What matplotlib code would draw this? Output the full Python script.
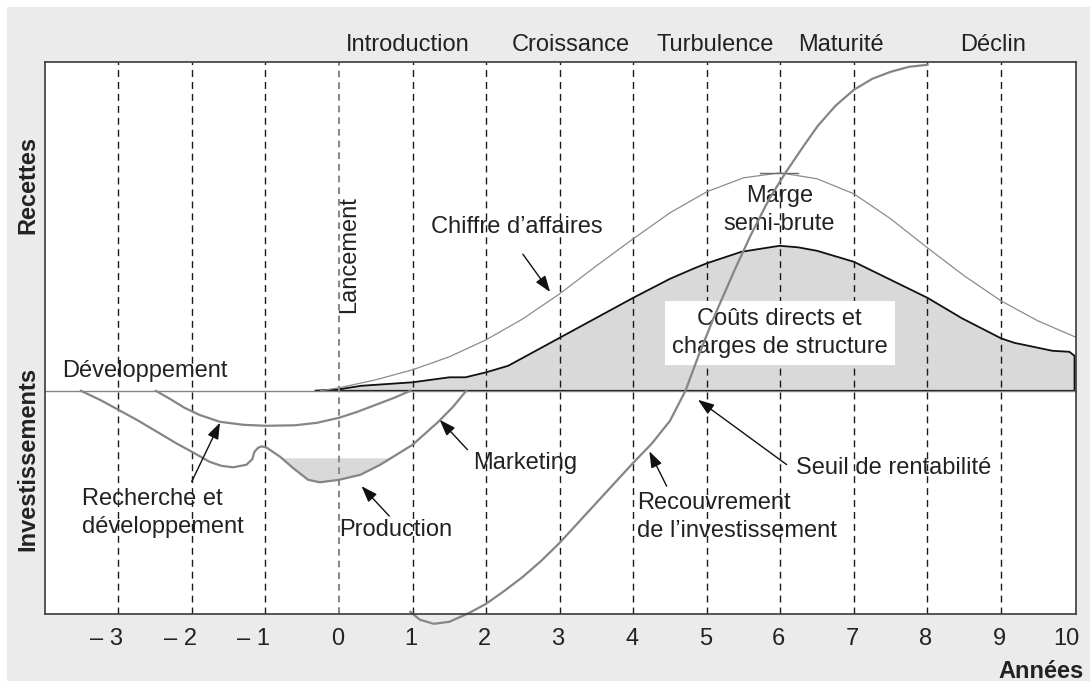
import matplotlib
matplotlib.use('Agg')
import matplotlib.pyplot as plt
from matplotlib.patches import Rectangle
import matplotlib.transforms as mtransforms

plt.rcParams['font.family'] = ['Liberation Sans', 'DejaVu Sans']

# ---------------- data ----------------
years = [-3, -2, -1, 0, 1, 2, 3, 4, 5, 6, 7, 8, 9, 10]
year_labels = ['– 3', '– 2', '– 1', '0', '1', '2', '3', '4', '5', '6', '7', '8', '9', '10']

phases = ['Introduction', 'Croissance', 'Turbulence', 'Maturité', 'Déclin']
phase_x = [0.93, 3.15, 5.12, 6.82, 8.89]

# Chiffre d'affaires (thin grey)
ca_x = [-0.25, 0, 0.5, 1, 1.5, 2, 2.5, 3, 3.5, 4, 4.5, 5, 5.5, 6, 6.5, 7, 7.5, 8, 8.5, 9, 9.5, 10.02]
ca_y = [0.0, 0.03, 0.11, 0.21, 0.34, 0.51, 0.72, 0.97, 1.25, 1.52, 1.78, 1.99, 2.13, 2.18, 2.12, 1.97, 1.72, 1.43, 1.15, 0.90, 0.70, 0.535]

# Coûts directs et charges de structure (black outline, grey fill)
cost_x = [-0.33, 0, 0.3, 1, 1.5, 1.72, 2, 2.3, 3, 3.5, 4, 4.5, 4.83, 5, 5.47, 5.99, 6.24, 6.5, 7, 7.5, 8, 8.47, 9, 9.18, 9.7, 9.93, 10.0, 10.0]
cost_y = [0.0, 0.015, 0.05, 0.085, 0.135, 0.135, 0.185, 0.25, 0.53, 0.73, 0.93, 1.12, 1.225, 1.275, 1.39, 1.45, 1.435, 1.40, 1.29, 1.11, 0.93, 0.725, 0.525, 0.48, 0.40, 0.39, 0.35, 0.0]

# Recherche et développement (upper U)
rd_x = [-2.49, -2.3, -2.1, -1.9, -1.62, -1.3, -1.0, -0.6, -0.3, 0, 0.25, 0.5, 0.75, 0.97]
rd_y = [0.0, -0.08, -0.17, -0.24, -0.31, -0.34, -0.35, -0.345, -0.32, -0.27, -0.21, -0.14, -0.07, 0.0]

# Marketing / production (lower curve)
mk_x = [-3.51, -3.25, -3.0, -2.75, -2.44, -2.2, -2.0, -1.76, -1.6, -1.44, -1.26, -1.18, -1.15, -1.10, -1.05,
        -0.98, -0.80, -0.62, -0.42, -0.26, 0, 0.29, 0.56, 1.0, 1.35, 1.55, 1.73]
mk_y = [0.0, -0.09, -0.19, -0.29, -0.425, -0.53, -0.61, -0.71, -0.75, -0.765, -0.74, -0.685, -0.61, -0.57, -0.555,
        -0.57, -0.66, -0.775, -0.89, -0.915, -0.89, -0.84, -0.74, -0.54, -0.31, -0.16, 0.0]
prod_level = -0.675
prod_start = -1.0

# Recouvrement de l'investissement
rec_x = [0.97, 1.1, 1.29, 1.5, 1.76, 2.0, 2.25, 2.5, 2.75, 3.0, 3.25, 3.5, 3.75, 4.0, 4.25, 4.5, 4.71, 4.9,
         5.1, 5.38, 5.6, 5.85, 6.07, 6.3, 6.51, 6.75, 7.0, 7.25, 7.5, 7.75, 8.0]
rec_y = [-2.21, -2.29, -2.33, -2.31, -2.225, -2.13, -2.0, -1.86, -1.70, -1.52, -1.32, -1.12, -0.92, -0.72, -0.53,
         -0.30, 0.0, 0.375, 0.74, 1.21, 1.56, 1.92, 2.18, 2.43, 2.65, 2.85, 3.01, 3.12, 3.19, 3.24, 3.26]

peak_x = [5.724, 6.245]
peak_y = [2.18, 2.18]

TXT = '#222222'
GREY = '#858585'
FS = 17

# ---------------- figure ----------------
fig = plt.figure(figsize=(10.9, 6.81), dpi=100)
fig.patch.set_facecolor('white')
fig.patches.append(Rectangle((7 / 1090, 0), 1 - 7 / 1090, 1 - 7 / 681, transform=fig.transFigure,
                             facecolor='#ebebeb', edgecolor='none', zorder=-10))

ax = fig.add_axes([44.5 / 1090, 1 - 614.4 / 681, (1075.7 - 44.5) / 1090, (614.4 - 61.7) / 681])
ax.set_xlim(-4.004, 10.016)
ax.set_ylim(-2.236, 3.291)
ax.set_facecolor('white')
for s in ax.spines.values():
    s.set_color('#3a3a3a')
    s.set_linewidth(1.2)
    s.set_zorder(6)
ax.set_yticks([])
ax.set_xticks(years, year_labels)
ax.tick_params(axis='x', length=0, pad=10, labelsize=FS, labelcolor=TXT)
offset = mtransforms.ScaledTranslation(5 / 100, 0, fig.dpi_scale_trans)
for lab in ax.get_xticklabels():
    lab.set_horizontalalignment('right')
    lab.set_transform(lab.get_transform() + offset)

# vertical dashed year lines
for yr in years[:-1]:
    if yr == 0:
        ax.axvline(yr, color='#8a8a8a', lw=1.5, dashes=(3.2, 2.4), zorder=2)
    else:
        ax.axvline(yr, color='#1a1a1a', lw=1.0, dashes=(5, 3.6), zorder=2)

# baseline
ax.axhline(0, color=GREY, lw=1.0, zorder=1.5)

# fills
ax.fill(cost_x, cost_y, facecolor='#d9d9d9', edgecolor='#111111', lw=1.3, zorder=1)
ax.fill_between(mk_x, mk_y, prod_level,
                where=[(x > prod_start) and (y <= prod_level) for x, y in zip(mk_x, mk_y)],
                interpolate=True, facecolor='#d9d9d9', edgecolor='none', lw=0, zorder=1)

# curves
ax.plot(ca_x, ca_y, color='#8c8c8c', lw=0.9, zorder=3)
ax.plot(peak_x, peak_y, color='#6a6a6a', lw=1.0, zorder=3)
ax.plot(rd_x, rd_y, color=GREY, lw=1.6, zorder=3)
ax.plot(mk_x, mk_y, color=GREY, lw=1.6, zorder=3)
ax.plot(rec_x, rec_y, color=GREY, lw=1.6, zorder=5, clip_on=False)

# phase labels
for name, px in zip(phases, phase_x):
    ax.text(px, 3.398, name, ha='center', va='baseline', fontsize=FS, color=TXT, clip_on=False)

# axis titles
ax.text(-4.136, 2.055, 'Recettes', rotation=90, rotation_mode='anchor', ha='center', va='baseline',
        fontsize=FS, fontweight='bold', color=TXT, clip_on=False)
ax.text(-4.136, -0.68, 'Investissements', rotation=90, rotation_mode='anchor', ha='center', va='baseline',
        fontsize=FS, fontweight='bold', color=TXT, clip_on=False)
ax.text(10.12, -2.872, 'Années', ha='right', va='baseline', fontsize=FS, fontweight='bold', color=TXT,
        clip_on=False)

# inner labels (multi-line texts: y = baseline of last line)
ax.text(0.2175, 1.366, 'Lancement', rotation=90, rotation_mode='anchor', ha='center', va='baseline',
        fontsize=FS, color=TXT, zorder=4)
ax.text(-3.758, 0.136, 'Développement', ha='left', va='baseline', fontsize=FS, color=TXT, zorder=4)
ax.text(1.251, 1.582, 'Chiffre d’affaires', ha='left', va='baseline', fontsize=FS, color=TXT, zorder=4)
ax.text(5.99, 1.608, 'Marge\nsemi-brute', ha='center', va='baseline', fontsize=FS, color=TXT,
        linespacing=1.35, multialignment='center', zorder=4)
ax.text(5.99, 0.375, 'Coûts directs et\ncharges de structure', ha='center', va='baseline', fontsize=FS,
        color=TXT, linespacing=1.35, multialignment='center', zorder=4,
        bbox=dict(boxstyle='square,pad=0.3', facecolor='white', edgecolor='none'))
ax.text(-3.498, -1.419, 'Recherche et\ndéveloppement', ha='left', va='baseline', fontsize=FS, color=TXT,
        linespacing=1.35, zorder=4)
ax.text(0.0, -1.452, 'Production', ha='left', va='baseline', fontsize=FS, color=TXT, zorder=4)
ax.text(1.818, -0.782, 'Marketing', ha='left', va='baseline', fontsize=FS, color=TXT, zorder=4)
ax.text(6.213, -0.828, 'Seuil de rentabilité', ha='left', va='baseline', fontsize=FS, color=TXT, zorder=4)
ax.text(4.052, -1.459, 'Recouvrement\nde l’investissement', ha='left', va='baseline', fontsize=FS, color=TXT,
        linespacing=1.35, zorder=4)

# arrows
arrows = [((2.50, 1.366), (2.87, 0.988)),
          ((-2.003, -0.909), (-1.618, -0.319)),
          ((0.684, -1.253), (0.306, -0.954)),
          ((1.747, -0.589), (1.369, -0.29)),
          ((6.086, -0.738), (4.881, -0.09)),
          ((4.455, -0.954), (4.219, -0.605))]
for tail, head in arrows:
    ax.annotate('', xy=head, xytext=tail,
                arrowprops=dict(arrowstyle='-|>,head_length=0.7,head_width=0.25', color='#111111', lw=1.0,
                                shrinkA=0, shrinkB=0, mutation_scale=14), zorder=6)

fig.savefig('out.png', dpi=100)
